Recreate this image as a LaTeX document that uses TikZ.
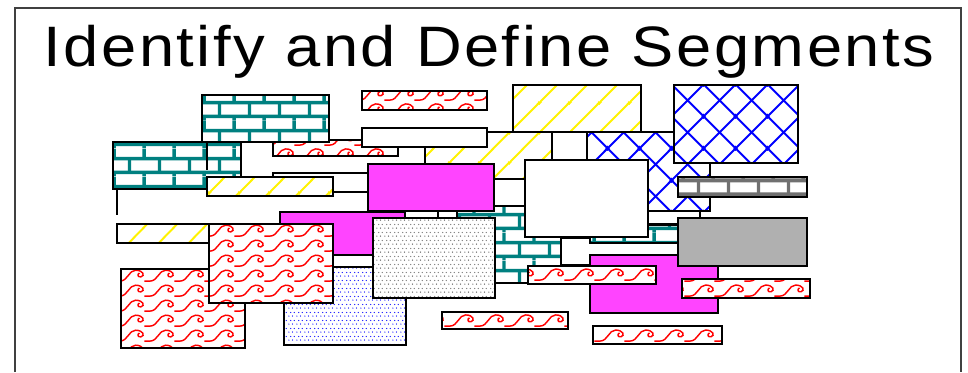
\documentclass[tikz,border=0pt]{standalone}
\usepackage{fontspec}
\setmainfont{Liberation Sans}
\newfontfamily\headfont[LetterSpace=4]{Liberation Sans}
\usetikzlibrary{patterns.meta}

\definecolor{pinkfill}{HTML}{FF44FF}
\definecolor{densegray}{HTML}{B0B0B0}
\definecolor{dotgray}{HTML}{707070}

\tikzdeclarepattern{
  name=tealbrick, type=colored,
  bottom left={(0pt,0pt)}, top right={(30pt,28pt)}, tile size={(30pt,28pt)},
  code={
    \tikzset{x=1pt,y=1pt}
    \fill[teal] (0,2) rectangle (30,5.5) (0,16) rectangle (30,19.5);
    \fill[teal] (8,5) rectangle (11.5,16.5) (23,19) rectangle (26.5,28) (23,0) rectangle (26.5,2.5);
  }
}
\tikzdeclarepattern{
  name=graybrick, type=colored,
  bottom left={(0pt,0pt)}, top right={(30pt,28pt)}, tile size={(30pt,28pt)},
  code={
    \tikzset{x=1pt,y=1pt}
    \fill[dotgray] (0,7.5) rectangle (30,11.5) (0,21.5) rectangle (30,25.5);
    \fill[dotgray] (7,11) rectangle (10.5,22) (22,25) rectangle (25.5,28) (22,0) rectangle (25.5,8);
  }
}
\tikzdeclarepattern{
  name=redwave, type=colored,
  bottom left={(0pt,0pt)}, top right={(30pt,15pt)}, tile size={(30pt,15pt)},
  code={
    \tikzset{x=1pt,y=1pt}
    \draw[red,line width=1.5pt] (0,2) .. controls (8,2) and (9,13.5) .. (16,13.5)
      .. controls (24,13.5) and (26,7.5) .. (21.5,6.5) .. controls (18.5,5.8) and (17,9) .. (20,10.5);
    \draw[red,line width=1.5pt] (25,2) -- (30,2);
  }
}
\tikzdeclarepattern{
  name=yellowline, type=colored,
  bottom left={(0pt,0pt)}, top right={(30pt,30pt)}, tile size={(30pt,30pt)},
  code={
    \tikzset{x=1pt,y=1pt}
    \draw[yellow,line width=2pt] (-2,-2) -- (32,32) (-2,28) -- (2,32) (28,-2) -- (32,2);
  }
}
\tikzdeclarepattern{
  name=bluelattice, type=colored,
  bottom left={(0pt,0pt)}, top right={(32pt,32pt)}, tile size={(32pt,32pt)},
  code={
    \tikzset{x=1pt,y=1pt}
    \draw[blue,line width=2pt] (-2,-2) -- (34,34) (-2,34) -- (34,-2)
      (-2,30) -- (2,34) (30,-2) -- (34,2) (-2,2) -- (2,-2) (30,34) -- (34,30);
  }
}
\tikzdeclarepattern{
  name=bluedot, type=colored,
  bottom left={(0pt,0pt)}, top right={(8pt,8pt)}, tile size={(8pt,8pt)},
  code={
    \tikzset{x=1pt,y=1pt}
    \fill[blue] (1,1) circle (0.7) (5,1) circle (0.7) (3,5) circle (0.7) (7,5) circle (0.7);
  }
}
\tikzdeclarepattern{
  name=graydot, type=colored,
  bottom left={(0pt,0pt)}, top right={(8pt,8pt)}, tile size={(8pt,8pt)},
  code={
    \tikzset{x=1pt,y=1pt}
    \fill[dotgray] (1,1) circle (0.75) (5,1) circle (0.75) (3,5) circle (0.75) (7,5) circle (0.75);
  }
}

\begin{document}
\begin{tikzpicture}[x=1pt,y=-1pt,
  box/.style={draw=black,line width=1.6pt},
  plain/.style={box,fill=white},
  bricks/.style={box,preaction={fill=white},pattern=tealbrick},
  greybricks/.style={box,preaction={fill=white},pattern=graybrick},
  waves/.style={box,preaction={fill=white},pattern=redwave},
  stripes/.style={box,preaction={fill=white},pattern=yellowline},
  lattice/.style={box,preaction={fill=white},pattern=bluelattice},
  bluedots/.style={box,preaction={fill=white},pattern=bluedot},
  greydots/.style={box,preaction={fill=white},pattern=graydot},
  pink/.style={box,fill=pinkfill},
  dense/.style={box,fill=densegray},
  edge/.style={draw=black,line width=1.6pt}
]
  \fill[white] (0,0) rectangle (968,372);
  \useasboundingbox (0,0) rectangle (968,372);
  \draw[line width=2pt,black!75] (15,372) |- (961,8) -- (961,372);
  \node[font=\headfont\fontsize{57}{62}\selectfont,anchor=base] (title) at (489,66)
    {\scalebox{1.11}[1]{Identify and Define Segments}};

  % back layers
  \draw[edge] (117,189) -- (117,215);
  \draw[stripes] (117,224) rectangle (215,243);
  \draw[stripes] (425,132) rectangle (552,179);
  \draw[plain] (552,132) rectangle (600,180);
  \draw[waves] (273,140) rectangle (398,156);
  \draw[plain] (273,173) rectangle (380,192);
  \draw[bricks] (440,205) rectangle (678,283);
  \draw[plain] (561,238) rectangle (678,265);
  \draw[bricks] (590,225) rectangle (678,243);
  \draw[plain] (493,179) rectangle (530,206);
  \draw[plain] (405,211) rectangle (438,230);
  \draw[plain] (438,211) rectangle (457,230);
  \draw[pink] (280,212) rectangle (405,255);
  \draw[bluedots] (284,267) rectangle (406,345);
  \draw[waves] (121,269) rectangle (245,348);
  \draw[waves] (209,224) rectangle (333,303);
  \draw[greydots] (373,218) rectangle (495,298);

  % front layers
  \draw[bricks] (202,95) rectangle (329,142);
  \draw[bricks] (113,142) rectangle (241,189);
  \draw[edge] (207,142) -- (207,170);
  \draw[plain] (362,128) rectangle (487,147);
  \draw[waves] (362,91) rectangle (487,110);
  \draw[stripes] (207,177) rectangle (333,196);
  \draw[pink] (368,164) rectangle (494,211);
  \draw[plain] (648,200) rectangle (700,224);
  \draw[lattice] (587,132) rectangle (710,211);
  \draw[stripes] (513,85) rectangle (641,132);
  \draw[lattice] (674,85) rectangle (798,163);
  \draw[plain] (525,160) rectangle (648,237);
  \draw[greybricks] (678,177) rectangle (807,197);
  \draw[pink] (590,255) rectangle (718,313);
  \draw[dense] (678,218) rectangle (807,266);
  \draw[waves] (528,266) rectangle (656,284);
  \draw[waves] (682,279) rectangle (810,298);
  \draw[waves] (593,326) rectangle (722,344);
  \draw[waves] (442,312) rectangle (568,329);
\end{tikzpicture}
\end{document}
